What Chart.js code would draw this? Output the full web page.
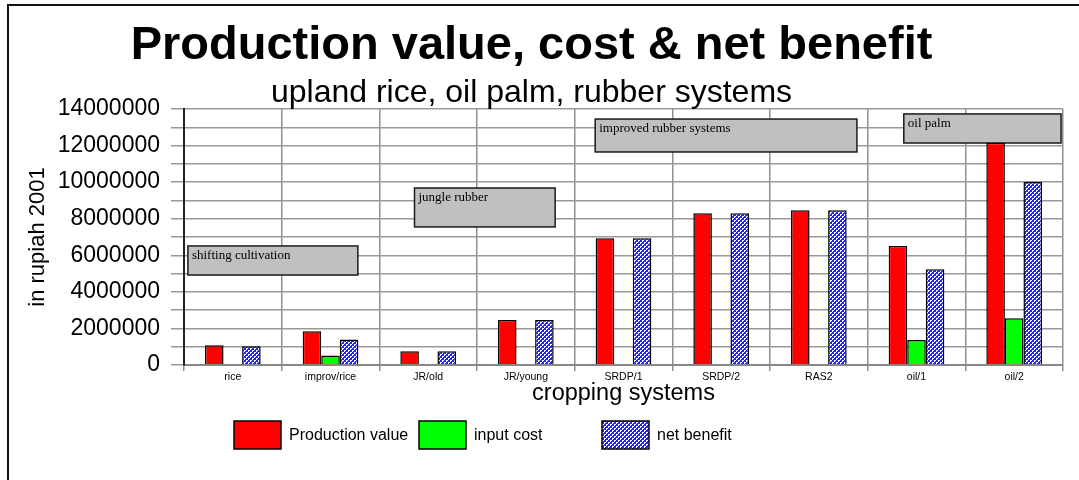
<!DOCTYPE html>
<html>
<head>
<meta charset="utf-8">
<title>Production value, cost & net benefit</title>
<script src="https://cdn.jsdelivr.net/npm/chart.js@4.4.1/dist/chart.umd.min.js"></script>
<style>
  html, body { margin: 0; padding: 0; background: #fff; overflow: hidden; }
  #wrap { position: relative; width: 1079px; height: 480px; }
  #frame {
    position: absolute; left: 7px; top: 4px; width: 1200px; height: 600px;
    border-top: 2px solid #111; border-left: 2px solid #111; pointer-events: none;
  }
  canvas { position: absolute; left: 0; top: 0; }
</style>
</head>
<body>
<div id="wrap">
  <canvas id="chart" width="1079" height="480"></canvas>
  <div id="frame"></div>
</div>
<script>
// cropping systems on the x axis
const systems = ['rice', 'improv/rice', 'JR/old', 'JR/young', 'SRDP/1', 'SRDP/2', 'RAS2', 'oil/1', 'oil/2'];

// values in rupiah (2001)
const productionValue = [1080000, 1850000, 750000, 2460000, 6930000, 8300000, 8460000, 6510000, 12160000];
const inputCost = [60000, 520000, 40000, 40000, 40000, 40000, 40000, 1370000, 2550000];
const netBenefit = [1020000, 1400000, 750000, 2460000, 6930000, 8300000, 8460000, 5230000, 10010000];

// grey group boxes: category span (index units) and value span
const groupLabels = ['shifting cultivation', 'jungle rubber', 'improved rubber systems', 'oil palm'];
const groupFrom = [-0.46, 1.86, 3.71, 6.87];
const groupTo = [1.28, 3.30, 6.39, 8.48];
const groupTop = [6510000, 9680000, 13450000, 13730000];
const groupBottom = [4920000, 7550000, 11650000, 12140000];

const SANS = '"Liberation Sans", Arial, sans-serif';
const SERIF = '"Liberation Serif", "Times New Roman", serif';

// fine blue crosshatch used for net benefit
function makeHatch(ctx) {
  const tile = document.createElement('canvas');
  tile.width = 4;
  tile.height = 4;
  const t = tile.getContext('2d');
  t.fillStyle = '#ffffff';
  t.fillRect(0, 0, 4, 4);
  t.fillStyle = '#2323ff';
  for (let px = 0; px < 4; px++) {
    for (let py = 0; py < 4; py++) {
      if ((px + py) % 4 < 2 || (px - py + 8) % 4 === 0) {
        t.fillRect(px, py, 1, 1);
      }
    }
  }
  return ctx.createPattern(tile, 'repeat');
}

const groupBoxes = {
  id: 'groupBoxes',
  beforeDatasetsDraw(chart) {
    const { ctx, scales: { x, y } } = chart;
    ctx.save();
    groupLabels.forEach((label, i) => {
      const left = x.getPixelForValue(groupFrom[i]);
      const right = x.getPixelForValue(groupTo[i]);
      const top = y.getPixelForValue(groupTop[i]);
      const bottom = y.getPixelForValue(groupBottom[i]);
      ctx.fillStyle = '#c0c0c0';
      ctx.fillRect(left, top, right - left, bottom - top);
      ctx.lineWidth = 1.5;
      ctx.strokeStyle = '#1a1a1a';
      ctx.strokeRect(left, top, right - left, bottom - top);
      ctx.fillStyle = '#000';
      ctx.font = '13px ' + SERIF;
      ctx.textBaseline = 'alphabetic';
      ctx.textAlign = 'left';
      ctx.fillText(label, left + 4, top + 13);
    });
    ctx.restore();
  }
};

const legendRow = {
  id: 'legendRow',
  afterDraw(chart, args, opts) {
    const { ctx } = chart;
    ctx.save();
    ctx.font = '16px ' + SANS;
    ctx.textBaseline = 'middle';
    ctx.textAlign = 'left';
    chart.data.datasets.forEach((ds, i) => {
      const bx = opts.x[i];
      ctx.fillStyle = ds.backgroundColor;
      ctx.fillRect(bx, opts.y, opts.boxWidth, opts.boxHeight);
      ctx.lineWidth = 1.5;
      ctx.strokeStyle = '#000';
      ctx.strokeRect(bx, opts.y, opts.boxWidth, opts.boxHeight);
      ctx.fillStyle = '#000';
      ctx.fillText(ds.label, bx + opts.boxWidth + 8, opts.y + opts.boxHeight / 2 + 1);
    });
    ctx.restore();
  }
};

const canvas = document.getElementById('chart');
const hatch = makeHatch(canvas.getContext('2d'));

new Chart(canvas, {
  type: 'bar',
  data: {
    labels: systems,
    datasets: [
      { label: 'Production value', data: productionValue, backgroundColor: '#ff0000' },
      { label: 'input cost', data: inputCost, backgroundColor: '#00ff00' },
      { label: 'net benefit', data: netBenefit, backgroundColor: hatch }
    ]
  },
  options: {
    responsive: false,
    animation: false,
    datasets: {
      bar: {
        categoryPercentage: 0.57,
        barPercentage: 1.0,
        borderColor: '#000',
        borderWidth: 1.5
      }
    },
    layout: {
      padding: { top: 0, left: 0, right: 16, bottom: 72 }
    },
    scales: {
      x: {
        afterFit(scale) { scale.height = 43; },
        grid: {
          offset: true,
          color: '#909090',
          lineWidth: 1.5,
          tickLength: 6
        },
        border: { color: '#888', width: 2 },
        ticks: {
          color: '#000',
          padding: 0,
          maxRotation: 0,
          autoSkip: false,
          font: { family: SANS, size: 10.5 }
        },
        title: {
          display: true,
          text: 'cropping systems',
          color: '#000',
          padding: { top: 0, bottom: 0 },
          font: { family: SANS, size: 23.5 }
        }
      },
      y: {
        min: 0,
        max: 14000000,
        afterFit(scale) { scale.width = 184; },
        grid: {
          color: '#999',
          lineWidth: 1.5,
          tickLength: 13
        },
        border: { color: '#222', width: 2 },
        ticks: {
          stepSize: 1000000,
          autoSkip: false,
          color: '#000',
          padding: 11,
          font: { family: SANS, size: 23 },
          callback: (v) => (v % 2000000 === 0 ? String(v) : '')
        },
        title: {
          display: true,
          text: 'in rupiah 2001',
          color: '#000',
          padding: { top: 25, bottom: 0 },
          font: { family: SANS, size: 22 }
        }
      }
    },
    plugins: {
      legend: { display: false },
      tooltip: { enabled: false },
      title: {
        display: true,
        text: 'Production value, cost & net benefit',
        color: '#000',
        padding: { top: 22.5, bottom: 0 },
        font: { family: SANS, size: 47, weight: 'bold', lineHeight: 1 }
      },
      subtitle: {
        display: true,
        text: 'upland rice, oil palm, rubber systems',
        color: '#000',
        padding: { top: 7.5, bottom: 0 },
        font: { family: SANS, size: 32, lineHeight: 1 }
      },
      legendRow: {
        x: [234, 419, 602],
        y: 421,
        boxWidth: 47,
        boxHeight: 28
      }
    }
  },
  plugins: [groupBoxes, legendRow]
});
</script>
</body>
</html>
